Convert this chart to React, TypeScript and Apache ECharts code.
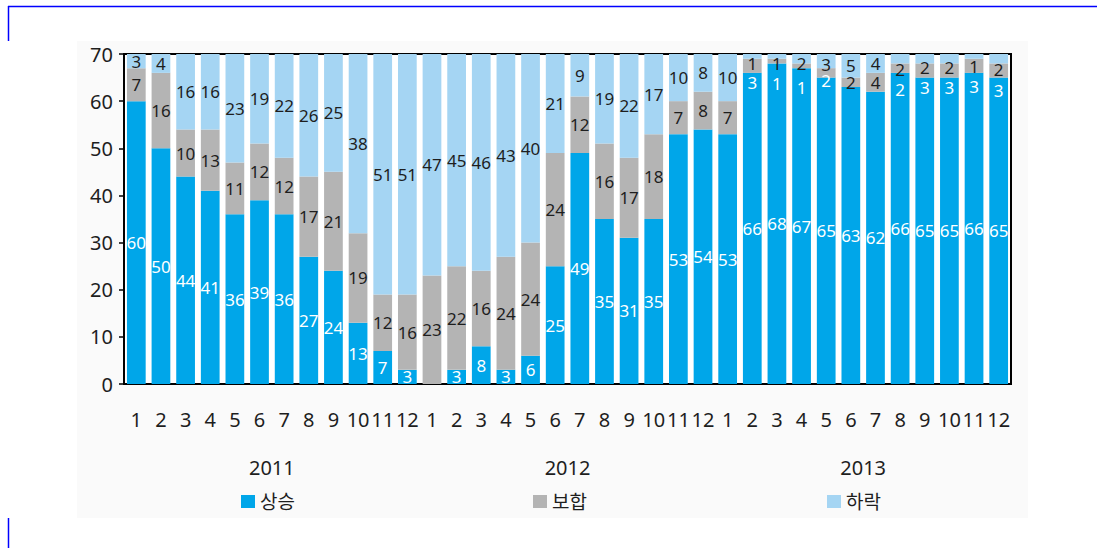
import React, { useEffect, useRef } from "react";
import * as echarts from "echarts";

// Monthly counts per category (stacked, each month totals 70)
const years = ["2011", "2012", "2013"];
const months = ["1", "2", "3", "4", "5", "6", "7", "8", "9", "10", "11", "12"];

const rising = [
  60, 50, 44, 41, 36, 39, 36, 27, 24, 13, 7, 3,
  0, 3, 8, 3, 6, 25, 49, 35, 31, 35, 53, 54,
  53, 66, 68, 67, 65, 63, 62, 66, 65, 65, 66, 65,
];
const flat = [
  7, 16, 10, 13, 11, 12, 12, 17, 21, 19, 12, 16,
  23, 22, 16, 24, 24, 24, 12, 16, 17, 18, 7, 8,
  7, 3, 1, 1, 2, 2, 4, 2, 3, 3, 3, 3,
];
const falling = [
  3, 4, 16, 16, 23, 19, 22, 26, 25, 38, 51, 51,
  47, 45, 46, 43, 40, 21, 9, 19, 22, 17, 10, 8,
  10, 1, 1, 2, 3, 5, 4, 2, 2, 2, 1, 2,
];

const seriesNames = ["상승", "보합", "하락"];

// Label nudges (px) for the thin segments at the top of the 2013 bars
const thinLabelShift: Record<number, { top: number; mid: number; light: boolean }> = {
  25: { top: 7, mid: 17, light: true },
  26: { top: 7, mid: 22, light: true },
  27: { top: 5, mid: 22, light: true },
  28: { top: 3, mid: 8, light: true },
  31: { top: 11, mid: 21, light: true },
  32: { top: 9, mid: 17, light: true },
  33: { top: 9, mid: 17, light: true },
  34: { top: 10, mid: 21, light: true },
  35: { top: 11, mid: 20, light: true },
};

const FONT = "'Noto Sans', 'Noto Sans CJK KR', sans-serif";
const COLORS = ["#00a6e9", "#b4b4b4", "#a5d5f3"];
const TEXT = "#1e1e1e";

export default function App() {
  const ref = useRef<HTMLDivElement>(null);

  useEffect(() => {
    if (!ref.current) return;
    const chart = echarts.init(ref.current, undefined, { renderer: "svg" });

    const categories: string[] = [];
    years.forEach((y) => months.forEach((m) => categories.push(`${y}-${m}`)));

    const hideZero = (p: any) => (p.value ? String(p.value) : "");

    const flatData = flat.map((v, i) => {
      const s = thinLabelShift[i];
      if (!s) return v;
      return { value: v, label: { offset: [0, s.mid], color: s.light ? "#ffffff" : TEXT } };
    });
    const fallingData = falling.map((v, i) => {
      const s = thinLabelShift[i];
      if (!s) return v;
      return { value: v, label: { offset: [0, s.top] } };
    });

    const labelBase = {
      show: true,
      position: "inside",
      fontFamily: FONT,
      fontSize: 17,
      formatter: hideZero,
    };

    const legendBase = {
      top: 492,
      itemWidth: 14,
      itemHeight: 13,
      icon: "rect",
      padding: 0,
      textStyle: { fontFamily: FONT, fontSize: 19, color: TEXT },
    };

    const axisText = { fontFamily: FONT, fontSize: 20, color: TEXT };

    chart.setOption({
      animation: false,
      backgroundColor: "#ffffff",
      textStyle: { fontFamily: FONT },
      graphic: [
        {
          type: "rect",
          z: -10,
          shape: { x: 77, y: 41, width: 951, height: 477 },
          style: { fill: "#fafafa" },
        },
        {
          type: "line",
          shape: { x1: 8, y1: 6.5, x2: 1097, y2: 6.5 },
          style: { stroke: "#0000ff", lineWidth: 1.5 },
        },
        {
          type: "line",
          shape: { x1: 8.5, y1: 6, x2: 8.5, y2: 41 },
          style: { stroke: "#0000ff", lineWidth: 1.5 },
        },
        {
          type: "line",
          shape: { x1: 8.5, y1: 518, x2: 8.5, y2: 548 },
          style: { stroke: "#0000ff", lineWidth: 1.5 },
        },
      ],
      legend: [
        { ...legendBase, left: 241, data: [seriesNames[0]] },
        { ...legendBase, left: 533, data: [seriesNames[1]] },
        { ...legendBase, left: 827, data: [seriesNames[2]] },
      ],
      grid: {
        left: 124,
        right: 86,
        top: 54,
        bottom: 164,
        show: true,
        backgroundColor: "#ffffff",
        borderColor: "#000000",
        borderWidth: 2,
      },
      xAxis: [
        {
          type: "category",
          data: categories,
          axisLine: { show: true, lineStyle: { color: "#000000", width: 2 } },
          axisTick: { show: false },
          axisLabel: {
            ...axisText,
            interval: 0,
            margin: 25,
            formatter: (v: string) => v.split("-")[1],
          },
        },
        {
          type: "category",
          data: years,
          position: "bottom",
          offset: 48,
          axisLine: { show: false },
          axisTick: { show: false },
          axisLabel: { ...axisText, interval: 0, margin: 25 },
        },
      ],
      yAxis: {
        type: "value",
        min: 0,
        max: 70,
        interval: 10,
        axisLine: { show: true, lineStyle: { color: "#000000", width: 2 } },
        axisTick: { show: true, length: 5, lineStyle: { color: "#000000", width: 1.5 } },
        splitLine: { show: false },
        axisLabel: { ...axisText, margin: 11 },
      },
      series: [
        {
          name: seriesNames[0],
          type: "bar",
          stack: "total",
          barCategoryGap: "24%",
          itemStyle: { color: COLORS[0] },
          label: { ...labelBase, color: "#ffffff" },
          data: rising,
        },
        {
          name: seriesNames[1],
          type: "bar",
          stack: "total",
          barCategoryGap: "24%",
          itemStyle: { color: COLORS[1] },
          label: { ...labelBase, color: TEXT },
          data: flatData,
        },
        {
          name: seriesNames[2],
          type: "bar",
          stack: "total",
          barCategoryGap: "24%",
          itemStyle: { color: COLORS[2] },
          label: { ...labelBase, color: TEXT },
          data: fallingData,
        },
      ],
    });

    return () => chart.dispose();
  }, []);

  return (
    <div
      ref={ref}
      style={{ position: "fixed", left: 0, top: 0, width: 1097, height: 548 }}
    />
  );
}
